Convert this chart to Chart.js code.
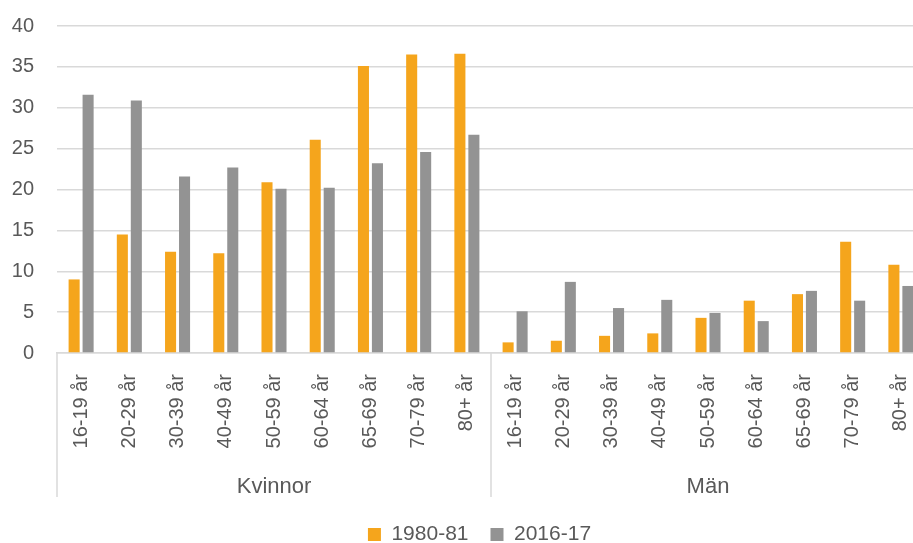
<!DOCTYPE html>
<html>
<head>
<meta charset="utf-8">
<script src="https://cdn.jsdelivr.net/npm/chart.js@4/dist/chart.umd.min.js"></script>
<style>
  html, body { margin: 0; padding: 0; background: #fff; overflow: hidden; }
  #wrap { width: 950px; height: 543px; position: relative; }
</style>
</head>
<body>
<div id="wrap"><canvas id="c"></canvas></div>
<script>
const ageGroups = ['16-19 år','20-29 år','30-39 år','40-49 år','50-59 år','60-64 år','65-69 år','70-79 år','80+ år'];
const groups = ['Kvinnor', 'Män'];
const categories = groups.flatMap(() => ageGroups);
const series1980 = [9.0, 14.5, 12.4, 12.2, 20.9, 26.1, 35.1, 36.5, 36.6,
                    1.3, 1.5, 2.1, 2.4, 4.3, 6.4, 7.2, 13.6, 10.8];
const series2016 = [31.6, 30.9, 21.6, 22.7, 20.1, 20.2, 23.2, 24.6, 26.7,
                    5.1, 8.7, 5.5, 6.5, 4.9, 3.9, 7.6, 6.4, 8.2];
const seriesNames = ['1980-81', '2016-17'];
const yTicks = [0, 5, 10, 15, 20, 25, 30, 35, 40];

const FONT = "'Liberation Sans', Arial, sans-serif";
const TEXT = '#595959';
const GRID = '#d9d9d9';

const groupPlugin = {
  id: 'groupLabels',
  afterLayout(chart) {
    const lg = chart.legend;
    if (lg) { lg.left += 17; lg.right += 17; }
  },
  afterDraw(chart) {
    const x = chart.scales.x;
    const ctx = chart.ctx;
    const per = ageGroups.length;
    const top = x.top;
    const bottom = x.top + 144;
    const half = (x.getPixelForValue(1) - x.getPixelForValue(0)) / 2;
    ctx.save();
    ctx.strokeStyle = GRID;
    ctx.lineWidth = 1.5;
    const bounds = [];
    for (let g = 0; g <= groups.length; g++) {
      const idx = g * per;
      const px = idx < categories.length ? x.getPixelForValue(idx) - half : x.getPixelForValue(categories.length - 1) + half;
      bounds.push(px);
      ctx.beginPath();
      ctx.moveTo(px, top);
      ctx.lineTo(px, bottom);
      ctx.stroke();
    }
    ctx.fillStyle = TEXT;
    ctx.font = '22px ' + FONT;
    ctx.textAlign = 'center';
    ctx.textBaseline = 'alphabetic';
    groups.forEach((name, g) => {
      ctx.fillText(name, (bounds[g] + bounds[g + 1]) / 2, x.top + 140);
    });
    ctx.restore();
  }
};

new Chart(document.getElementById('c'), {
  type: 'bar',
  data: {
    labels: categories,
    datasets: [
      { label: seriesNames[0], data: series1980, backgroundColor: '#F5A51C', barPercentage: 0.79, categoryPercentage: 0.58 },
      { label: seriesNames[1], data: series2016, backgroundColor: '#939393', barPercentage: 0.79, categoryPercentage: 0.58 }
    ]
  },
  options: {
    responsive: true,
    maintainAspectRatio: false,
    animation: false,
    layout: { padding: { top: 26, right: 25, bottom: -12, left: 0 } },
    plugins: {
      legend: {
        position: 'bottom',
        labels: {
          color: TEXT,
          font: { family: FONT, size: 21 },
          boxWidth: 13,
          boxHeight: 13,
          padding: 22
        }
      },
      tooltip: { enabled: false }
    },
    scales: {
      x: {
        offset: true,
        grid: { display: false },
        border: { display: true, color: GRID, width: 1.5 },
        ticks: {
          color: TEXT,
          font: { family: FONT, size: 20 },
          minRotation: 90,
          maxRotation: 90,
          padding: 13,
          autoSkip: false
        },
        afterFit(s) { s.height = 149; }
      },
      y: {
        min: 0,
        max: 40,
        afterBuildTicks(s) { s.ticks = yTicks.map(v => ({ value: v })); },
        grid: { color: GRID, lineWidth: 1.5, drawTicks: false },
        border: { display: false },
        ticks: {
          color: TEXT,
          font: { family: FONT, size: 20 },
          padding: 23
        },
        afterFit(s) { s.width = 57; s.paddingTop = 12; s.paddingBottom = 12; }
      }
    }
  },
  plugins: [groupPlugin]
});
</script>
</body>
</html>
